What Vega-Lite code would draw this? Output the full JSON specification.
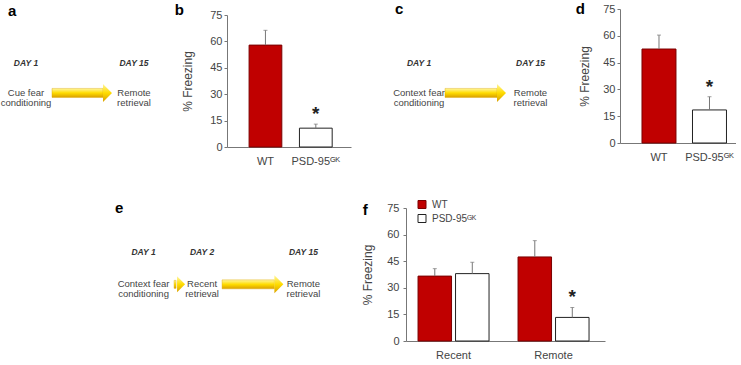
{
  "$schema": "https://vega.github.io/schema/vega-lite/v6.json",
  "background": "white",
  "padding": {"top": 2, "left": 0, "right": 0, "bottom": 0},
  "config": {
    "font": "Liberation Sans",
    "view": {"stroke": null},
    "axis": {"grid": false, "domainColor": "#777", "tickColor": "#777", "labelColor": "#444", "titleColor": "#444", "labelFontSize": 11, "titleFontSize": 12, "titleFontWeight": "normal", "labelFont": "Liberation Sans", "titleFont": "Liberation Sans"},
    "title": {"fontSize": 15, "fontWeight": "bold", "color": "#000", "anchor": "start", "frame": "bounds", "font": "Liberation Sans"},
    "text": {"font": "Liberation Sans"}
  },
  "spacing": 33,
  "resolve": {"scale": {"fill": "independent", "stroke": "independent"}, "legend": {"fill": "independent", "stroke": "independent"}},
  "vconcat": [
    {
      "spacing": 0,
      "resolve": {"scale": {"fill": "independent", "stroke": "independent"}, "legend": {"fill": "independent", "stroke": "independent"}},
      "hconcat": [
        {
          "width": 174, "height": 140,
          "title": {"text": "a", "dx": 8, "offset": -10},
          "data": {"values": [
            {"day": 1, "dayLabel": "DAY 1", "event": "Cue fear\nconditioning"},
            {"day": 15, "dayLabel": "DAY 15", "event": "Remote\nretrieval"}
          ]},
          "layer": [
            {"mark": {"type": "text", "fontStyle": "italic", "fontWeight": "bold", "fontSize": 8.5, "color": "#333"},
             "encoding": {
               "x": {"field": "day", "type": "quantitative", "scale": {"domain": [-2.37, 20.19], "nice": false, "zero": false}, "axis": null},
               "y": {"datum": 1, "type": "quantitative", "scale": {"domain": [-1.719, 2.656], "nice": false, "zero": false}, "axis": null},
               "text": {"field": "dayLabel"}}},
            {"mark": {"type": "text", "fontSize": 9.5, "lineBreak": "\n", "lineHeight": 10, "color": "#444"},
             "encoding": {
               "x": {"field": "day", "type": "quantitative"},
               "y": {"datum": 0, "type": "quantitative"},
               "text": {"field": "event"}}},
            {"data": {"values": [{"from": 1, "to": 15}]},
             "mark": {"type": "bar", "height": 9, "xOffset": 26, "x2Offset": -31, "strokeWidth": 0.4, "stroke": "#d9a400",
                      "fill": {"gradient": "linear", "x1": 0, "y1": 0, "x2": 0, "y2": 1, "stops": [{"offset": 0, "color": "#fff6a0"}, {"offset": 0.5, "color": "#ffdc00"}, {"offset": 1, "color": "#d9a000"}]}},
             "encoding": {"x": {"field": "from", "type": "quantitative"}, "x2": {"field": "to"}, "y": {"datum": 0, "type": "quantitative"}}},
            {"data": {"values": [{"from": 1, "to": 15}]},
             "mark": {"type": "point", "shape": "M -0.5 -1 L 0.5 0 L -0.5 1 Z", "size": 324, "filled": true, "opacity": 1, "xOffset": -26.5, "strokeWidth": 0,
                      "fill": {"gradient": "linear", "x1": 0, "y1": 0, "x2": 0, "y2": 1, "stops": [{"offset": 0, "color": "#fff6a0"}, {"offset": 0.5, "color": "#ffdc00"}, {"offset": 1, "color": "#d9a000"}]}},
             "encoding": {"x": {"field": "to", "type": "quantitative"}, "y": {"datum": 0, "type": "quantitative"}}}
          ]
        },
        {
          "width": 124, "height": 138,
          "title": {"text": "b", "dx": -7, "offset": -9},
          "data": {"values": [
            {"genotype": "WT", "freezing": 57.9, "upper": 66.3, "sig": ""},
            {"genotype": "PSD-95ᴳᴷ", "freezing": 10.7, "upper": 13.0, "sig": "*"}
          ]},
          "encoding": {
            "x": {"field": "genotype", "type": "nominal", "sort": null, "scale": {"paddingInner": 0.35, "paddingOuter": 0.406, "align": 0.54}, "axis": {"title": null, "labelAngle": 0, "ticks": false, "labelPadding": 8}}
          },
          "layer": [
            {"mark": {"type": "bar", "strokeWidth": 1},
             "encoding": {
               "y": {"field": "freezing", "type": "quantitative", "scale": {"domain": [0, 75], "range": [138, 6], "nice": false}, "axis": {"values": [0, 15, 30, 45, 60, 75], "title": "% Freezing", "tickSize": 3, "titlePadding": 15, "labelPadding": 2}},
               "fill": {"field": "genotype", "type": "nominal", "sort": null, "scale": {"domain": ["WT", "PSD-95ᴳᴷ"], "range": ["#c00000", "#ffffff"]}, "legend": null},
               "stroke": {"field": "genotype", "type": "nominal", "sort": null, "scale": {"domain": ["WT", "PSD-95ᴳᴷ"], "range": ["#7a0000", "#222222"]}, "legend": null}}},
            {"mark": {"type": "rule", "color": "#777", "strokeWidth": 1},
             "encoding": {"y": {"field": "freezing", "type": "quantitative", "axis": {"values": [0, 15, 30, 45, 60, 75], "title": "% Freezing", "tickSize": 3, "titlePadding": 15, "labelPadding": 2}}, "y2": {"field": "upper"}}},
            {"mark": {"type": "tick", "color": "#777", "size": 4, "thickness": 1},
             "encoding": {"y": {"field": "upper", "type": "quantitative", "axis": {"values": [0, 15, 30, 45, 60, 75], "title": "% Freezing", "tickSize": 3, "titlePadding": 15, "labelPadding": 2}}}},
            {"mark": {"type": "text", "fontSize": 19, "fontWeight": "bold", "color": "#222", "baseline": "alphabetic", "dy": -4},
             "encoding": {"y": {"field": "upper", "type": "quantitative", "axis": {"values": [0, 15, 30, 45, 60, 75], "title": "% Freezing", "tickSize": 3, "titlePadding": 15, "labelPadding": 2}}, "text": {"field": "sig"}}}
          ]
        },
        {
          "width": 224, "height": 140,
          "title": {"text": "c", "dx": 44, "offset": -8},
          "data": {"values": [
            {"day": 1, "dayLabel": "DAY 1", "event": "Context fear\nconditioning"},
            {"day": 15, "dayLabel": "DAY 15", "event": "Remote\nretrieval"}
          ]},
          "layer": [
            {"mark": {"type": "text", "fontStyle": "italic", "fontWeight": "bold", "fontSize": 8.5, "color": "#333"},
             "encoding": {
               "x": {"field": "day", "type": "quantitative", "scale": {"domain": [-7.54, 20.59], "nice": false, "zero": false}, "axis": null},
               "y": {"datum": 1, "type": "quantitative", "scale": {"domain": [-1.719, 2.656], "nice": false, "zero": false}, "axis": null},
               "text": {"field": "dayLabel"}}},
            {"mark": {"type": "text", "fontSize": 9.5, "lineBreak": "\n", "lineHeight": 10, "color": "#444"},
             "encoding": {
               "x": {"field": "day", "type": "quantitative"},
               "y": {"datum": 0, "type": "quantitative"},
               "text": {"field": "event"}}},
            {"data": {"values": [{"from": 1, "to": 15}]},
             "mark": {"type": "bar", "height": 9, "xOffset": 26, "x2Offset": -33.5, "strokeWidth": 0.4, "stroke": "#d9a400",
                      "fill": {"gradient": "linear", "x1": 0, "y1": 0, "x2": 0, "y2": 1, "stops": [{"offset": 0, "color": "#fff6a0"}, {"offset": 0.5, "color": "#ffdc00"}, {"offset": 1, "color": "#d9a000"}]}},
             "encoding": {"x": {"field": "from", "type": "quantitative"}, "x2": {"field": "to"}, "y": {"datum": 0, "type": "quantitative"}}},
            {"data": {"values": [{"from": 1, "to": 15}]},
             "mark": {"type": "point", "shape": "M -0.5 -1 L 0.5 0 L -0.5 1 Z", "size": 324, "filled": true, "opacity": 1, "xOffset": -29, "strokeWidth": 0,
                      "fill": {"gradient": "linear", "x1": 0, "y1": 0, "x2": 0, "y2": 1, "stops": [{"offset": 0, "color": "#fff6a0"}, {"offset": 0.5, "color": "#ffdc00"}, {"offset": 1, "color": "#d9a000"}]}},
             "encoding": {"x": {"field": "to", "type": "quantitative"}, "y": {"datum": 0, "type": "quantitative"}}}
          ]
        },
        {
          "width": 116, "height": 134,
          "title": {"text": "d", "dx": -3, "offset": -14},
          "data": {"values": [
            {"genotype": "WT", "freezing": 52.6, "upper": 60.4, "sig": ""},
            {"genotype": "PSD-95ᴳᴷ", "freezing": 18.5, "upper": 25.9, "sig": "*"}
          ]},
          "encoding": {
            "x": {"field": "genotype", "type": "nominal", "sort": null, "scale": {"paddingInner": 0.327, "paddingOuter": 0.312, "align": 0.698}, "axis": {"title": null, "labelAngle": 0, "ticks": false, "labelPadding": 8}}
          },
          "layer": [
            {"mark": {"type": "bar", "strokeWidth": 1},
             "encoding": {
               "y": {"field": "freezing", "type": "quantitative", "scale": {"domain": [0, 75], "nice": false}, "axis": {"values": [0, 15, 30, 45, 60, 75], "title": "% Freezing", "tickSize": 3, "titlePadding": 11, "labelPadding": 2}},
               "fill": {"field": "genotype", "type": "nominal", "sort": null, "scale": {"domain": ["WT", "PSD-95ᴳᴷ"], "range": ["#c00000", "#ffffff"]}, "legend": null},
               "stroke": {"field": "genotype", "type": "nominal", "sort": null, "scale": {"domain": ["WT", "PSD-95ᴳᴷ"], "range": ["#7a0000", "#222222"]}, "legend": null}}},
            {"mark": {"type": "rule", "color": "#777", "strokeWidth": 1},
             "encoding": {"y": {"field": "freezing", "type": "quantitative", "axis": {"values": [0, 15, 30, 45, 60, 75], "title": "% Freezing", "tickSize": 3, "titlePadding": 11, "labelPadding": 2}}, "y2": {"field": "upper"}}},
            {"mark": {"type": "tick", "color": "#777", "size": 4, "thickness": 1},
             "encoding": {"y": {"field": "upper", "type": "quantitative", "axis": {"values": [0, 15, 30, 45, 60, 75], "title": "% Freezing", "tickSize": 3, "titlePadding": 11, "labelPadding": 2}}}},
            {"mark": {"type": "text", "fontSize": 19, "fontWeight": "bold", "color": "#222", "baseline": "alphabetic", "dy": -4},
             "encoding": {"y": {"field": "upper", "type": "quantitative", "axis": {"values": [0, 15, 30, 45, 60, 75], "title": "% Freezing", "tickSize": 3, "titlePadding": 11, "labelPadding": 2}}, "text": {"field": "sig"}}}
          ]
        }
      ]
    },
    {
      "spacing": 0,
      "resolve": {"scale": {"fill": "independent", "stroke": "independent"}, "legend": {"fill": "independent", "stroke": "independent"}},
      "hconcat": [
        {
          "width": 361, "height": 110,
          "title": {"text": "e", "dx": 115, "offset": -8},
          "data": {"values": [
            {"day": 1, "dayLabel": "DAY 1", "event": "Context fear\nconditioning"},
            {"day": 2, "dayLabel": "DAY 2", "event": "Recent\nretrieval"},
            {"day": 15, "dayLabel": "DAY 15", "event": "Remote\nretrieval"}
          ]},
          "layer": [
            {"mark": {"type": "text", "fontStyle": "italic", "fontWeight": "bold", "fontSize": 8.5, "color": "#333"},
             "encoding": {
               "x": {"field": "day", "type": "quantitative", "scale": {"type": "pow", "exponent": -0.4, "domain": [0.3116, 316], "nice": false, "zero": false}, "axis": null},
               "y": {"datum": 1, "type": "quantitative", "scale": {"domain": [-0.887, 2.211], "nice": false, "zero": false}, "axis": null},
               "text": {"field": "dayLabel"}}},
            {"mark": {"type": "text", "fontSize": 9.5, "lineBreak": "\n", "lineHeight": 10, "color": "#444"},
             "encoding": {
               "x": {"field": "day", "type": "quantitative"},
               "y": {"datum": 0, "type": "quantitative"},
               "text": {"field": "event"}}},
            {"data": {"values": [{"from": 1, "to": 2}]},
             "mark": {"type": "bar", "height": 8, "xOffset": 30.5, "x2Offset": -26, "strokeWidth": 0.4, "stroke": "#d9a400",
                      "fill": {"gradient": "linear", "x1": 0, "y1": 0, "x2": 0, "y2": 1, "stops": [{"offset": 0, "color": "#fff6a0"}, {"offset": 0.5, "color": "#ffdc00"}, {"offset": 1, "color": "#d9a000"}]}},
             "encoding": {"x": {"field": "from", "type": "quantitative"}, "x2": {"field": "to"}, "y": {"datum": 0, "type": "quantitative"}}},
            {"data": {"values": [{"from": 1, "to": 2}]},
             "mark": {"type": "point", "shape": "M -0.5 -1 L 0.5 0 L -0.5 1 Z", "size": 256, "filled": true, "opacity": 1, "xOffset": -21, "strokeWidth": 0,
                      "fill": {"gradient": "linear", "x1": 0, "y1": 0, "x2": 0, "y2": 1, "stops": [{"offset": 0, "color": "#fff6a0"}, {"offset": 0.5, "color": "#ffdc00"}, {"offset": 1, "color": "#d9a000"}]}},
             "encoding": {"x": {"field": "to", "type": "quantitative"}, "y": {"datum": 0, "type": "quantitative"}}},
            {"data": {"values": [{"from": 2, "to": 15}]},
             "mark": {"type": "bar", "height": 9, "xOffset": 20, "x2Offset": -29, "strokeWidth": 0.4, "stroke": "#d9a400",
                      "fill": {"gradient": "linear", "x1": 0, "y1": 0, "x2": 0, "y2": 1, "stops": [{"offset": 0, "color": "#fff6a0"}, {"offset": 0.5, "color": "#ffdc00"}, {"offset": 1, "color": "#d9a000"}]}},
             "encoding": {"x": {"field": "from", "type": "quantitative"}, "x2": {"field": "to"}, "y": {"datum": 0, "type": "quantitative"}}},
            {"data": {"values": [{"from": 2, "to": 15}]},
             "mark": {"type": "point", "shape": "M -0.5 -1 L 0.5 0 L -0.5 1 Z", "size": 324, "filled": true, "opacity": 1, "xOffset": -24.5, "strokeWidth": 0,
                      "fill": {"gradient": "linear", "x1": 0, "y1": 0, "x2": 0, "y2": 1, "stops": [{"offset": 0, "color": "#fff6a0"}, {"offset": 0.5, "color": "#ffdc00"}, {"offset": 1, "color": "#d9a000"}]}},
             "encoding": {"x": {"field": "to", "type": "quantitative"}, "y": {"datum": 0, "type": "quantitative"}}}
          ]
        },
        {
          "width": 199, "height": 133,
          "title": {"text": "f", "dx": 1, "offset": -18.5},
          "data": {"values": [
            {"session": "Recent", "genotype": "WT", "freezing": 36.6, "upper": 40.8, "sig": ""},
            {"session": "Recent", "genotype": "PSD-95ᴳᴷ", "freezing": 38.0, "upper": 44.4, "sig": ""},
            {"session": "Remote", "genotype": "WT", "freezing": 47.4, "upper": 56.6, "sig": ""},
            {"session": "Remote", "genotype": "PSD-95ᴳᴷ", "freezing": 13.3, "upper": 18.9, "sig": "*"}
          ]},
          "encoding": {
            "x": {"field": "session", "type": "nominal", "sort": null, "scale": {"paddingInner": 0.29, "paddingOuter": 0.14, "align": 0.43}, "axis": {"title": null, "labelAngle": 0, "ticks": false, "labelPadding": 8}},
            "xOffset": {"field": "genotype", "type": "nominal", "sort": null, "scale": {"paddingInner": 0.107, "paddingOuter": 0}}
          },
          "layer": [
            {"mark": {"type": "bar", "strokeWidth": 1},
             "encoding": {
               "y": {"field": "freezing", "type": "quantitative", "scale": {"domain": [0, 75], "nice": false}, "axis": {"values": [0, 15, 30, 45, 60, 75], "title": "% Freezing", "tickSize": 3, "titlePadding": 12, "labelPadding": 4}},
               "fill": {"field": "genotype", "type": "nominal", "sort": null, "scale": {"domain": ["WT", "PSD-95ᴳᴷ"], "range": ["#c00000", "#ffffff"]},
                        "legend": {"title": null, "orient": "none", "legendX": 11, "legendY": -8.5, "symbolType": "square", "symbolSize": 64, "symbolStrokeWidth": 1, "symbolStrokeColor": "#222", "labelFontSize": 10, "labelColor": "#444", "rowPadding": 2, "labelOffset": 5, "padding": 0}},
               "stroke": {"field": "genotype", "type": "nominal", "sort": null, "scale": {"domain": ["WT", "PSD-95ᴳᴷ"], "range": ["#7a0000", "#222222"]}, "legend": null}}},
            {"mark": {"type": "rule", "color": "#777", "strokeWidth": 1},
             "encoding": {"y": {"field": "freezing", "type": "quantitative", "axis": {"values": [0, 15, 30, 45, 60, 75], "title": "% Freezing", "tickSize": 3, "titlePadding": 12, "labelPadding": 4}}, "y2": {"field": "upper"}}},
            {"mark": {"type": "tick", "color": "#777", "size": 4, "thickness": 1},
             "encoding": {"y": {"field": "upper", "type": "quantitative", "axis": {"values": [0, 15, 30, 45, 60, 75], "title": "% Freezing", "tickSize": 3, "titlePadding": 12, "labelPadding": 4}}}},
            {"mark": {"type": "text", "fontSize": 19, "fontWeight": "bold", "color": "#222", "baseline": "alphabetic", "dy": -4},
             "encoding": {"y": {"field": "upper", "type": "quantitative", "axis": {"values": [0, 15, 30, 45, 60, 75], "title": "% Freezing", "tickSize": 3, "titlePadding": 12, "labelPadding": 4}}, "text": {"field": "sig"}}}
          ]
        }
      ]
    }
  ]
}
